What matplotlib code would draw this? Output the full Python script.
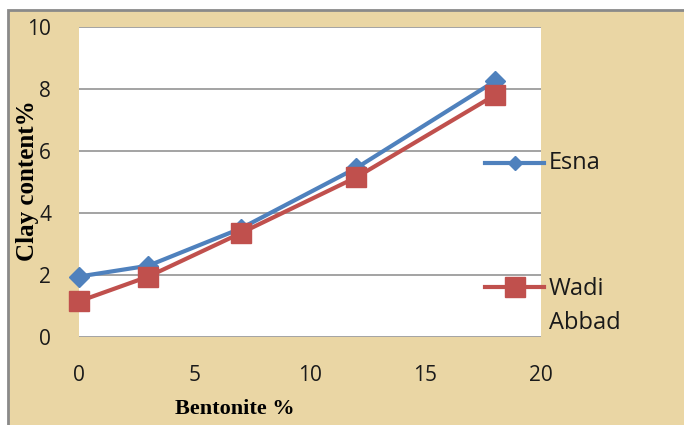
import matplotlib
matplotlib.use("Agg")
import matplotlib.pyplot as plt
from matplotlib.patches import Rectangle
from matplotlib.lines import Line2D

# ------------------------------------------------------------------------------
# data
bentonite   = [0, 3, 7, 12, 18]
esna        = [1.95, 2.3, 3.5, 5.45, 8.25]
wadi_abbad  = [1.15, 1.95, 3.35, 5.15, 7.8]
series_names = ["Esna", "Wadi\nAbbad"]
x_ticks     = [0, 5, 10, 15, 20]
y_ticks     = [0, 2, 4, 6, 8, 10]

# ------------------------------------------------------------------------------
# style
blue   = "#4F81BD"
red    = "#C0504D"
paper  = "#EAD6A4"
grid_c = "#9C9C9C"
W, H   = 684, 425

fig = plt.figure(figsize=(W / 100, H / 100), dpi=100, facecolor="white")

# parchment frame
frame = Rectangle((8 / W, -0.05), 1.1, (H - 10) / H + 0.05,
                  transform=fig.transFigure, facecolor=paper,
                  edgecolor="#8A8A8A", linewidth=2, zorder=0)
fig.add_artist(frame)

ax = fig.add_axes([79 / W, 88 / H, 462 / W, 310 / H])
ax.set_facecolor("white")
ax.set_xlim(0, 20)
ax.set_ylim(0, 10)
for s in ax.spines.values():
    s.set_visible(False)
ax.set_axisbelow(True)
for yv in y_ticks:
    ax.axhline(yv, color=grid_c, lw=1.3, zorder=1)

ax.plot(bentonite, esna, color=blue, lw=3, marker="D", ms=10,
        markeredgecolor=blue, clip_on=False, zorder=3)
ax.plot(bentonite, wadi_abbad, color=red, lw=3, marker="s", ms=14,
        markeredgecolor=red, clip_on=False, zorder=4)

ax.set_xticks(x_ticks)
ax.set_yticks(y_ticks)
ax.tick_params(length=0, labelsize=15)
ax.tick_params(axis="x", pad=20)
ax.tick_params(axis="y", pad=20)
for lab in ax.get_xticklabels() + ax.get_yticklabels():
    lab.set_family("Open Sans")
    lab.set_color("#1A1A1A")

# axis titles
fig.text(235 / W, 1 - 409 / H, "Bentonite %", ha="center", va="center",
         family="Liberation Serif", weight="bold", fontsize=16)
fig.text(28 / W, 1 - 181 / H, "Clay content%", ha="center", va="center",
         rotation=90, family="Liberation Serif", weight="bold", fontsize=18)

# legend (drawn by hand so the marker sits on the first text line)
leg_y  = [163, 287]
colors = [blue, red]
marks  = [("D", 7.5), ("s", 14)]
for name, y, col, (m, ms) in zip(series_names, leg_y, colors, marks):
    yf = 1 - y / H
    fig.add_artist(Line2D([485 / W, 544 / W], [yf, yf], color=col, lw=3,
                          transform=fig.transFigure, zorder=5))
    fig.add_artist(Line2D([515 / W], [yf], color=col, marker=m, ms=ms,
                          markeredgecolor=col, transform=fig.transFigure, zorder=6))
    fig.text(549 / W, yf, name, ha="left", va="top" if "\n" in name else "center",
             family="Open Sans", fontsize=17, color="#1A1A1A", linespacing=1.55,
             transform=fig.transFigure)

# first line of multi-line label should center on the handle
fig.texts[-1].set_y(1 - (287 - 10) / H)

fig.savefig("out.png", dpi=100, facecolor="white")
